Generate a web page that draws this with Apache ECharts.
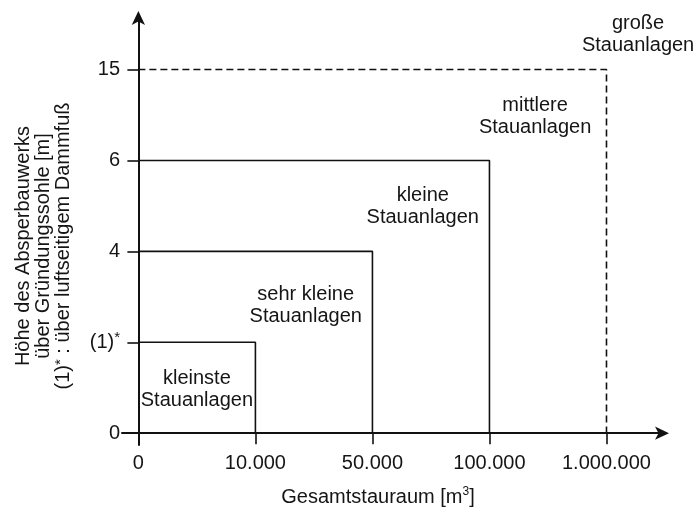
<!DOCTYPE html>
<html>
<head>
<meta charset="utf-8">
<script src="https://cdn.jsdelivr.net/npm/echarts@6/dist/echarts.min.js"></script>
<style>html,body{margin:0;padding:0;background:#fff}#c{width:697px;height:512px}</style>
</head>
<body>
<div id="c"></div>
<script>
// Tick labels (schematic, equally spaced classes)
var xTickLabels = ['0', '10.000', '50.000', '100.000', '1.000.000'];
var yTickLabels = ['0', '(1)*', '4', '6', '15'];
// Class boundaries as tick indices (volume index, height index)
var classNames = ['kleinste\nStauanlagen', 'sehr kleine\nStauanlagen', 'kleine\nStauanlagen', 'mittlere\nStauanlagen', 'große\nStauanlagen'];
var boundX = [1, 2, 3, 4];
var boundY = [1, 2, 3, 4];
var boundDashed = [false, false, false, true];
// anchor of each class label (in tick-index units)
var labelAnchorX = [0.5, 1.43, 2.43, 3.39, 4.27];
var labelAnchorY = [0.48, 1.41, 2.49, 3.48, 4.39];

var FONT = 'Liberation Sans, Arial, sans-serif';
var FS = 20;
var TXT = '#151515';
var chart = echarts.init(document.getElementById('c'));

var series = [];
boundX.forEach(function (bx, i) {
  var by = boundY[i];
  series.push({
    type: 'line',
    data: [[0, by], [bx, by], [bx, 0]],
    symbol: 'none',
    silent: true,
    z: 2,
    lineStyle: { color: '#111', width: 1.6, type: boundDashed[i] ? [7, 4] : 'solid' }
  });
});
series.push({
  type: 'scatter',
  symbolSize: 0,
  clip: false,
  silent: true,
  itemStyle: { opacity: 1 },
  data: classNames.map(function (n, i) { return { name: n, value: [labelAnchorX[i], labelAnchorY[i]] }; }),
  label: {
    show: true, position: 'inside', formatter: '{b}',
    color: TXT, fontFamily: FONT, fontSize: FS, lineHeight: 22, align: 'center', verticalAlign: 'middle'
  }
});

var tickVals = [0, 1, 2, 3, 4];

chart.setOption({
  animation: false,
  grid: { left: 122, right: 32, top: 15, bottom: 67 },
  xAxis: {
    type: 'value', min: -0.14, max: 4.5,
    axisLine: { onZero: true, lineStyle: { color: '#111', width: 2 }, symbol: ['none', 'arrow'], symbolSize: [10, 14], symbolOffset: [0, 4] },
    axisTick: { show: true, length: 11, customValues: tickVals, lineStyle: { color: '#111', width: 1.6 } },
    axisLabel: {
      customValues: tickVals, margin: 8, color: TXT, fontFamily: FONT, fontSize: FS,
      formatter: function (v) { return xTickLabels[Math.round(v)]; }
    },
    splitLine: { show: false }
  },
  yAxis: {
    type: 'value', min: -0.13, max: 4.6,
    axisLine: { onZero: true, lineStyle: { color: '#111', width: 2 }, symbol: ['none', 'arrow'], symbolSize: [10, 14], symbolOffset: [0, 4] },
    axisTick: { show: true, length: 11, customValues: tickVals, lineStyle: { color: '#111', width: 1.6 } },
    axisLabel: {
      customValues: tickVals, margin: 2, color: TXT, fontFamily: FONT, fontSize: FS,
      formatter: function (v) {
        var s = yTickLabels[Math.round(v)];
        return s.replace('*', '{sup|*}');
      },
      rich: { sup: { fontSize: 15, verticalAlign: 'top', padding: [0, 0, 8, 0], color: TXT, fontFamily: FONT } }
    },
    splitLine: { show: false }
  },
  graphic: [
    {
      type: 'text', x: 378, y: 497,
      style: {
        text: 'Gesamtstauraum [m{sup|3}]', fill: TXT, font: FS + 'px ' + FONT, align: 'center', verticalAlign: 'middle',
        rich: { sup: { fontSize: 12, verticalAlign: 'top', padding: [0, 0, 10, 0], fill: TXT, fontFamily: FONT } }
      }
    },
    {
      type: 'text', x: 43, y: 246, rotation: Math.PI / 2,
      style: {
        text: 'Höhe des Absperbauwerks\nüber Gründungssohle [m]\n(1){sup|*} : über luftseitigem Dammfuß',
        fill: TXT, font: FS + 'px ' + FONT, lineHeight: 20, align: 'center', verticalAlign: 'middle',
        rich: { sup: { fontSize: 15, fill: TXT, fontFamily: FONT, lineHeight: 20, verticalAlign: 'top', padding: [0, 0, 6, 0] } }
      }
    }
  ],
  series: series
});
</script>
</body>
</html>
